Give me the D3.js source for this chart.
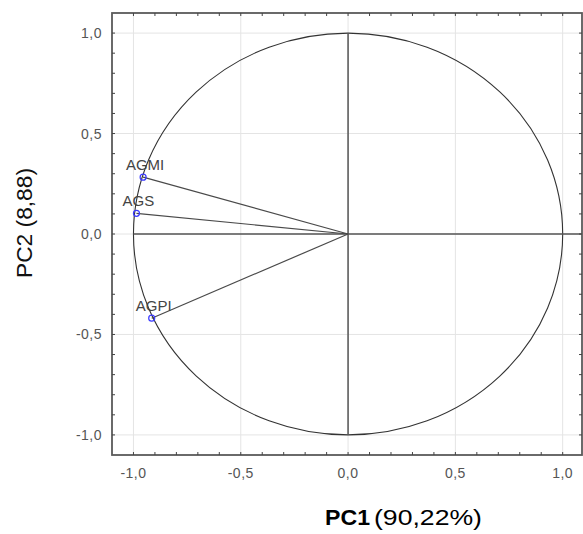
<!DOCTYPE html>
<html>
<head>
<meta charset="utf-8">
<script src="https://cdnjs.cloudflare.com/ajax/libs/d3/7.8.5/d3.min.js"></script>
<style>
  body { margin: 0; background: #fff; }
  svg { display: block; font-family: "Liberation Sans", Arial, sans-serif; }
</style>
</head>
<body>
<svg width="583" height="534"></svg>
<script>
// loadings of the variables on the first two components
var variables = ["AGMI", "AGS", "AGPI"];
var pc1 = [-0.955, -0.986, -0.915];
var pc2 = [0.283, 0.103, -0.419];

// axis ticks
var majorTicks = [-1, -0.5, 0, 0.5, 1];
var tickLabels = ["-1,0", "-0,5", "0,0", "0,5", "1,0"];
var minorTicks = d3.range(-10, 11).map(function(i) { return i / 10; });

var svg = d3.select("svg"),
    margin = {top: 13, right: 1, bottom: 79, left: 112},
    width = +svg.attr("width") - margin.left - margin.right,
    height = +svg.attr("height") - margin.top - margin.bottom,
    g = svg.append("g").attr("transform", "translate(" + margin.left + "," + margin.top + ")");

var x = d3.scaleLinear().domain([-1.1, 1.09]).range([0, width]);
var y = d3.scaleLinear().domain([-1.1, 1.1]).range([height, 0]);

// grid lines at the major ticks
g.selectAll(".vgrid")
    .data(majorTicks)
    .enter().append("line")
    .attr("x1", function(d) { return x(d); })
    .attr("x2", function(d) { return x(d); })
    .attr("y1", 0)
    .attr("y2", height)
    .attr("stroke", "#e4e4e4")
    .attr("stroke-width", 1);

g.selectAll(".hgrid")
    .data(majorTicks)
    .enter().append("line")
    .attr("x1", 0)
    .attr("x2", width)
    .attr("y1", function(d) { return y(d); })
    .attr("y2", function(d) { return y(d); })
    .attr("stroke", "#e4e4e4")
    .attr("stroke-width", 1);

// unit circle
g.append("ellipse")
    .attr("cx", x(0))
    .attr("cy", y(0))
    .attr("rx", x(1) - x(0))
    .attr("ry", y(0) - y(1))
    .attr("fill", "none")
    .attr("stroke", "#333")
    .attr("stroke-width", 1.1);

// the two axes through the origin
g.append("line")
    .attr("x1", x(-1)).attr("x2", width)
    .attr("y1", y(0)).attr("y2", y(0))
    .attr("stroke", "#555").attr("stroke-width", 1.5);

g.append("line")
    .attr("x1", x(0)).attr("x2", x(0))
    .attr("y1", y(1)).attr("y2", y(-1))
    .attr("stroke", "#555").attr("stroke-width", 1.5);

// vectors from the origin
var loadings = variables.map(function(v, i) { return {name: v, pc1: pc1[i], pc2: pc2[i]}; });

g.selectAll(".vec")
    .data(loadings)
    .enter().append("line")
    .attr("x1", x(0))
    .attr("y1", y(0))
    .attr("x2", function(d) { return x(d.pc1); })
    .attr("y2", function(d) { return y(d.pc2); })
    .attr("stroke", "#4a4a4a")
    .attr("stroke-width", 1.2);

g.selectAll(".pt")
    .data(loadings)
    .enter().append("circle")
    .attr("cx", function(d) { return x(d.pc1); })
    .attr("cy", function(d) { return y(d.pc2); })
    .attr("r", 3)
    .attr("fill", "none")
    .attr("stroke", "#3b3bff")
    .attr("stroke-width", 1.2);

g.selectAll(".lbl")
    .data(loadings)
    .enter().append("text")
    .attr("x", function(d) { return x(d.pc1) + 2; })
    .attr("y", function(d) { return y(d.pc2) - 7; })
    .attr("text-anchor", "middle")
    .attr("font-size", "15px")
    .attr("fill", "#444")
    .text(function(d) { return d.name; });

// frame
g.append("rect")
    .attr("width", width)
    .attr("height", height)
    .attr("fill", "none")
    .attr("stroke", "#5a5a5a")
    .attr("stroke-width", 1.8);

// little inward ticks on all four sides
var tickLen = 3;
minorTicks.forEach(function(t) {
    g.append("line").attr("x1", x(t)).attr("x2", x(t)).attr("y1", height).attr("y2", height - tickLen)
        .attr("stroke", "#444");
    g.append("line").attr("x1", x(t)).attr("x2", x(t)).attr("y1", 0).attr("y2", tickLen)
        .attr("stroke", "#444");
    g.append("line").attr("y1", y(t)).attr("y2", y(t)).attr("x1", 0).attr("x2", tickLen)
        .attr("stroke", "#444");
    g.append("line").attr("y1", y(t)).attr("y2", y(t)).attr("x1", width).attr("x2", width - tickLen)
        .attr("stroke", "#444");
});

// tick labels
g.selectAll(".xtl")
    .data(majorTicks)
    .enter().append("text")
    .attr("x", function(d) { return x(d); })
    .attr("y", height + 23)
    .attr("text-anchor", "middle")
    .attr("font-size", "14px")
    .attr("letter-spacing", "0.5px")
    .attr("fill", "#555")
    .text(function(d, i) { return tickLabels[i]; });

g.selectAll(".ytl")
    .data(majorTicks)
    .enter().append("text")
    .attr("x", -10)
    .attr("y", function(d) { return y(d) + 5; })
    .attr("text-anchor", "end")
    .attr("font-size", "14px")
    .attr("letter-spacing", "0.5px")
    .attr("fill", "#555")
    .text(function(d, i) { return tickLabels[i]; });

// axis titles
var xt = svg.append("text")
    .attr("x", 325)
    .attr("y", 525)
    .attr("font-size", "22px")
    .attr("fill", "#000");
xt.append("tspan").attr("font-weight", "bold")
    .attr("textLength", 45).attr("lengthAdjust", "spacingAndGlyphs").text("PC1");
xt.append("tspan").attr("dx", 4)
    .attr("textLength", 108).attr("lengthAdjust", "spacingAndGlyphs").text("(90,22%)");

svg.append("text")
    .attr("transform", "translate(32,223) rotate(-90)")
    .attr("text-anchor", "middle")
    .attr("font-size", "22px")
    .attr("fill", "#111")
    .attr("textLength", 110)
    .attr("lengthAdjust", "spacingAndGlyphs")
    .text("PC2 (8,88)");
</script>
</body>
</html>
